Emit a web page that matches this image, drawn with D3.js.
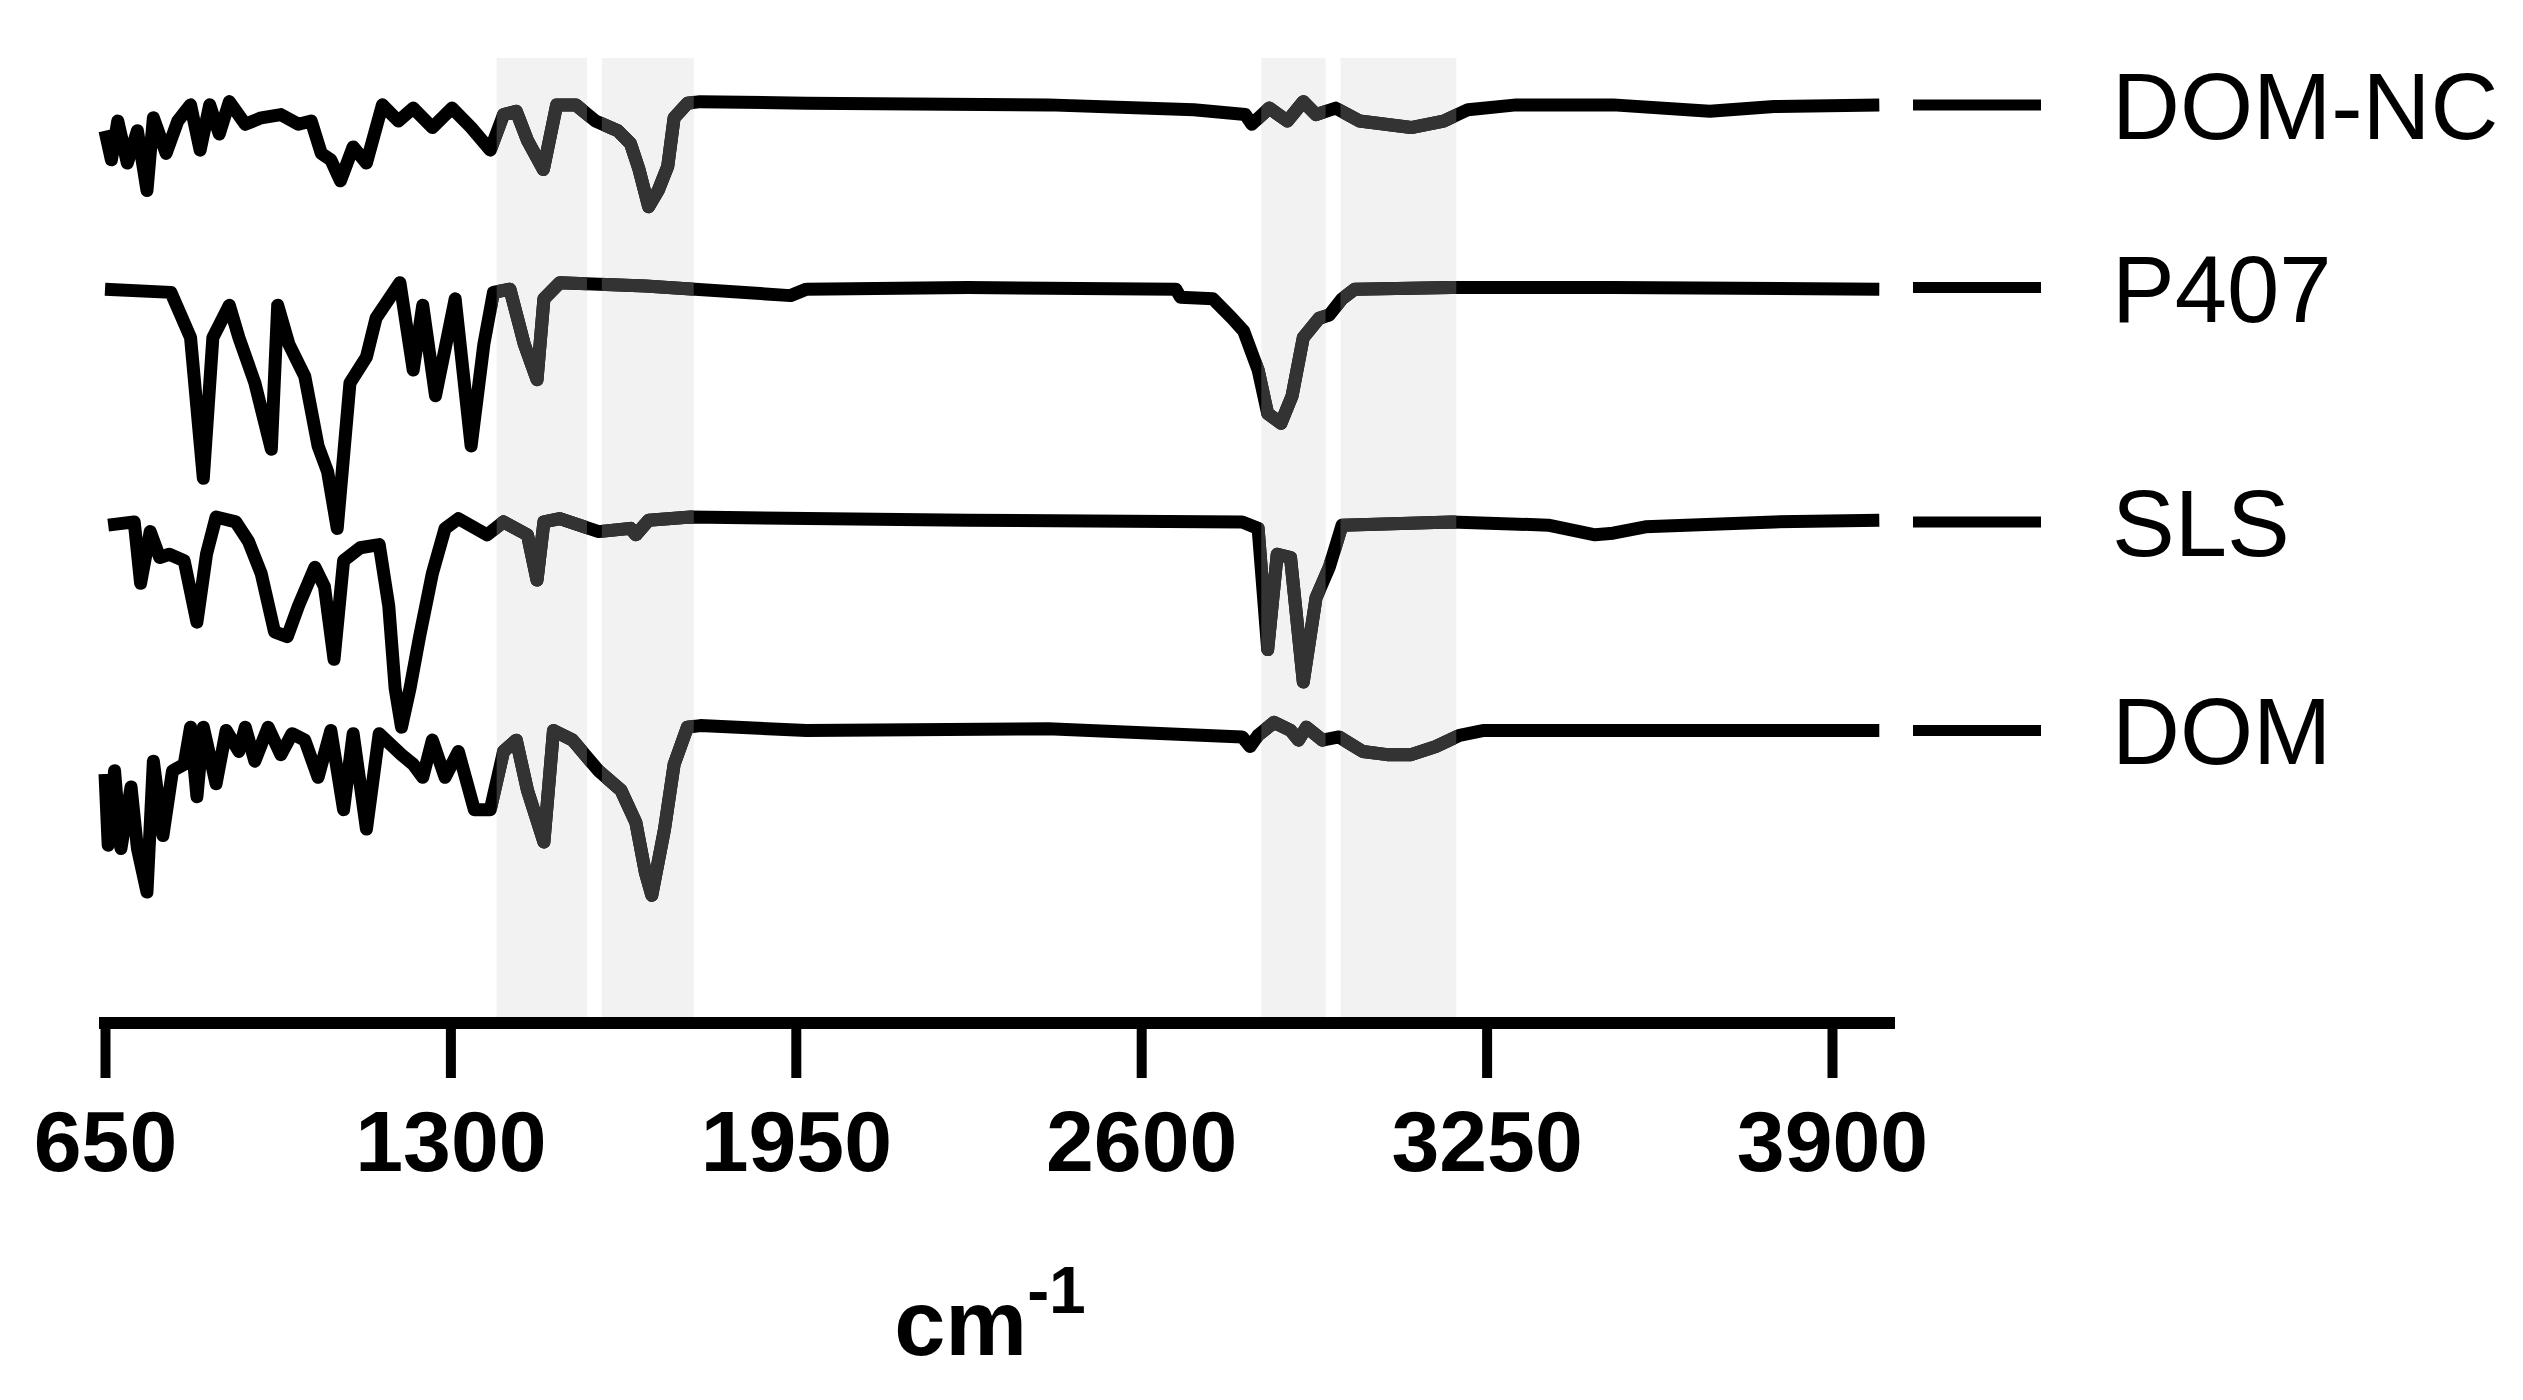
<!DOCTYPE html>
<html>
<head>
<meta charset="utf-8">
<script src="https://cdn.jsdelivr.net/npm/d3@7"></script>
<style>
  body { margin: 0; background: #fff; }
  text { font-family: "Liberation Sans", Arial, sans-serif; }
</style>
</head>
<body>
<div id="chart"></div>
<script>
// wavenumber (cm-1), offset transmittance (a.u.)
var domNC = [[650,552],[662,534],[674,558],[692,532],[711,552],[729,515],[741,560],[765,538],[787,558],[811,568],[829,540],[847,568],[865,550],[884,570],[914,556],[944,560],[981,562],[1014,556],[1038,558],[1057,538],[1075,534],[1093,521],[1117,542],[1142,532],[1172,568],[1202,558],[1230,566],[1266,554],[1303,566],[1339,554],[1375,540],[1400,562],[1424,564],[1445,546],[1475,528],[1500,568],[1536,568],[1573,558],[1615,552],[1639,544],[1655,528],[1673,505],[1691,515],[1709,530],[1721,560],[1746,569],[1770,570],[1970,569],[2425,568],[2699,565],[2796,562],[2808,556],[2841,566],[2875,558],[2905,570],[2929,562],[2966,566],[3011,558],[3108,554],[3169,558],[3215,565],[3306,568],[3488,568],[3670,564],[3791,567],[3989,568]];

var p407 = [[650,454],[774,452],[811,424],[835,337],[853,424],[884,444],[902,424],[932,396],[963,355],[975,444],[996,420],[1026,400],[1051,357],[1069,341],[1087,306],[1111,396],[1142,412],[1160,436],[1205,458],[1230,404],[1248,444],[1272,388],[1309,448],[1339,357],[1363,420],[1381,452],[1412,454],[1439,420],[1463,398],[1476,448],[1506,458],[1667,456],[1940,450],[1970,454],[2274,455],[2665,454],[2674,449],[2735,448],[2771,436],[2793,428],[2820,404],[2838,377],[2863,371],[2884,388],[2905,424],[2935,436],[2954,438],[2978,448],[3002,454],[3184,455],[3488,455],[3989,454]];

var sls = [[656,308],[705,310],[717,272],[735,304],[753,288],[771,290],[799,286],[823,248],[841,290],[859,313],[896,310],[920,298],[944,278],[969,242],[993,239],[1014,258],[1045,282],[1063,270],[1081,225],[1099,286],[1130,294],[1166,296],[1184,258],[1196,207],[1208,183],[1224,207],[1242,239],[1266,278],[1290,306],[1315,312],[1369,302],[1400,310],[1445,302],[1463,274],[1476,310],[1506,312],[1579,304],[1639,306],[1649,302],[1673,311],[1752,313],[2274,311],[2790,310],[2820,306],[2838,231],[2856,290],[2881,288],[2905,211],[2929,263],[2954,282],[2978,308],[3184,310],[3366,308],[3454,302],[3488,303],[3549,307],[3791,310],[3989,311]];

var dom = [[650,154],[656,110],[668,156],[680,108],[699,146],[711,108],[729,81],[741,162],[759,116],[777,156],[799,160],[811,183],[823,140],[835,183],[859,148],[878,181],[902,168],[914,183],[932,162],[957,183],[981,166],[1002,179],[1026,175],[1051,152],[1075,181],[1099,132],[1117,179],[1142,120],[1166,179],[1208,166],[1230,160],[1248,152],[1266,175],[1290,152],[1315,168],[1345,132],[1375,132],[1400,168],[1424,175],[1445,144],[1476,112],[1494,181],[1530,175],[1579,156],[1621,144],[1649,124],[1667,93],[1679,79],[1703,120],[1721,160],[1746,183],[1770,184],[1970,181],[2425,182],[2790,177],[2805,171],[2820,178],[2850,186],[2881,181],[2896,175],[2911,183],[2941,175],[2972,177],[3017,168],[3063,166],[3108,166],[3154,171],[3199,178],[3245,181],[3989,181]];

var seriesNames = ["DOM-NC", "P407", "SLS", "DOM"];
var seriesData = [domNC, p407, sls, dom];
var baselines = [568, 455, 310, 181];

// highlighted bands [from, to] in cm-1
var bands = [[1387, 1557], [1585, 1758], [2826, 2947], [2975, 3193]];

var xTicks = [650, 1300, 1950, 2600, 3250, 3900];

var width = 2523, height = 1400;

var svg = d3.select("#chart").append("svg")
	.attr("width", width)
	.attr("height", height);

var x = d3.scaleLinear().domain([650, 3900]).range([105, 1832]);
var y = d3.scaleLinear().domain([0, 597]).range([1023, 58]);

//Bands behind lines
svg.selectAll(".band").data(bands).enter().append("rect")
	.attr("class", "band")
	.attr("x", function(d) { return x(d[0]); })
	.attr("width", function(d) { return x(d[1]) - x(d[0]); })
	.attr("y", y(597))
	.attr("height", y(0) - y(597))
	.style("fill", "#f2f2f2");

var line = d3.line()
	.x(function(d) { return x(d[0]); })
	.y(function(d) { return y(d[1]); });

//Clip for the lighter segments inside the bands
var defs = svg.append("defs");
var clip = defs.append("clipPath").attr("id", "bandClip");
clip.selectAll("rect").data(bands).enter().append("rect")
	.attr("x", function(d) { return x(d[0]); })
	.attr("width", function(d) { return x(d[1]) - x(d[0]); })
	.attr("y", 0)
	.attr("height", height);

seriesData.forEach(function(s) {
	svg.append("path")
		.datum(s)
		.attr("d", line)
		.style("fill", "none")
		.style("stroke", "#000")
		.style("stroke-width", 13)
		.style("stroke-linejoin", "round");
});
seriesData.forEach(function(s) {
	svg.append("path")
		.datum(s)
		.attr("d", line)
		.attr("clip-path", "url(#bandClip)")
		.style("fill", "none")
		.style("stroke", "#333")
		.style("stroke-width", 13)
		.style("stroke-linejoin", "round");
});

//Legend dashes and names
seriesNames.forEach(function(name, i) {
	var yy = y(baselines[i]);
	svg.append("line")
		.attr("x1", 1913).attr("x2", 2041)
		.attr("y1", yy).attr("y2", yy)
		.style("stroke", "#000")
		.style("stroke-width", 11);
	svg.append("text")
		.attr("x", 2112)
		.attr("y", yy + 34)
		.style("font-size", "94px")
		.text(name);
});

//X axis
var axis = svg.append("g")
	.attr("transform", "translate(0," + y(0) + ")")
	.call(d3.axisBottom(x).tickValues(xTicks).tickSize(55).tickSizeOuter(0).tickPadding(32).tickFormat(d3.format("d")));
axis.select(".domain").remove();
axis.append("line")
	.attr("x1", x(650) - 6).attr("x2", 1895)
	.style("stroke", "#000")
	.style("stroke-width", 12);
axis.selectAll(".tick line")
	.style("stroke", "#000")
	.style("stroke-width", 10);
axis.selectAll(".tick text")
	.style("font-family", "'Liberation Sans', Arial, sans-serif")
	.style("font-weight", "bold")
	.style("font-size", "86px")
	.style("fill", "#000");

var title = svg.append("text")
	.attr("x", 990)
	.attr("y", 1355)
	.style("text-anchor", "middle")
	.style("font-weight", "bold")
	.style("font-size", "92px");
title.append("tspan").text("cm");
title.append("tspan").attr("dy", -42).style("font-size", "66px").text("-1");
</script>
</body>
</html>
